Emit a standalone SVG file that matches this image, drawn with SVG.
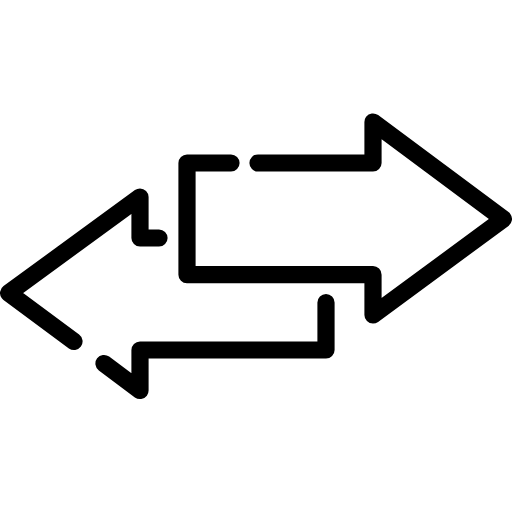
<svg xmlns="http://www.w3.org/2000/svg" width="512" height="512" viewBox="0 0 512 512"><style>.s{fill:none;stroke:#000;stroke-width:17.2;stroke-linecap:round;stroke-linejoin:round}</style><rect width="512" height="512" fill="#fff"/><path class="s" d="M231 163H187V274.700H373V315L503.400 219L373 122V163H258"/><path class="s" d="M159 238H140V197L8.600 293L74 341.500M104 363.500L140 390.500V350H326V302.500"/></svg>
